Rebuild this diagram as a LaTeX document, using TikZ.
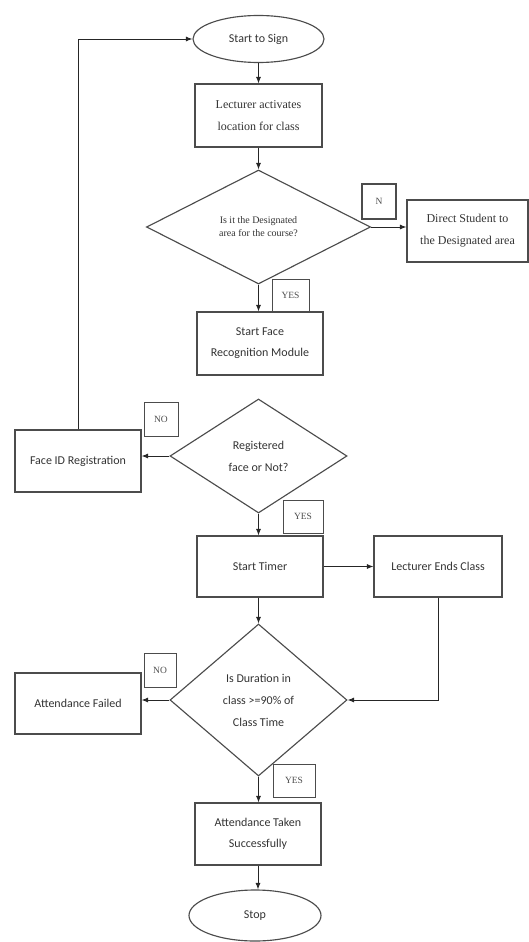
\documentclass[tikz,border=0pt]{standalone}
\usepackage{fontspec}
\setmainfont{Carlito}
\newfontfamily\timesfont{Liberation Serif}
\usetikzlibrary{shapes.geometric,arrows.meta}

\begin{document}
\begin{tikzpicture}[
    x=1pt, y=-1pt,
    box/.style={draw=black!70, line width=.4mm, minimum width=126pt,
        minimum height=62pt, align=center, inner sep=2pt,
        text=black!80, font=\fontsize{12}{21}\selectfont},
    serif/.style={font=\timesfont\fontsize{12}{22}\selectfont},
    term/.style={ellipse, draw=black!70, line width=.4mm, inner sep=0pt,
        text=black!80, font=\fontsize{12}{14}\selectfont},
    decision/.style={diamond, draw=black!70, line width=.4mm, inner sep=0pt,
        align=center, text=black!80, font=\fontsize{12}{22}\selectfont},
    tag/.style={draw=black!70, line width=.35mm, inner sep=0pt,
        text=black!70, font=\timesfont\fontsize{9.5}{11}\selectfont},
    arr/.style={-{Latex[length=2.3mm, width=1.8mm]}, line width=.35mm, draw=black!85},
]
    \useasboundingbox (0,0) rectangle (529,942);

    %% top: sign in and location check
    \node[term, minimum width=131pt, minimum height=47pt] (start) at (258.5,39) {Start to Sign};
    \node[box, serif, minimum width=127pt, minimum height=63pt] (act) at (258.5,115.5)
        {Lecturer activates\\location for class};
    \node[decision, font=\timesfont\fontsize{10}{13}\selectfont,
        minimum width=224pt, minimum height=114pt] (area) at (258.5,227)
        {Is it the Designated\\area for the course?};
    \node[tag, line width=.6mm, minimum width=34pt, minimum height=35pt] (n) at (379,201.5) {N};
    \node[box, serif, minimum width=121pt] (direct) at (467.5,231)
        {Direct Student to\\the Designated area};
    \node[tag, minimum width=37pt, minimum height=33pt] (yes1) at (290.5,295.5) {YES};
    \node[box, minimum width=126pt, minimum height=63pt] (face) at (260,343.5)
        {Start Face\\Recognition Module};

    %% face check
    \node[decision, minimum width=177pt, minimum height=114pt] (regq) at (258.5,456)
        {Registered\\face or Not?};
    \node[box] (reg) at (78,461) {Face ID Registration};
    \node[tag, minimum width=34pt, minimum height=34pt] (no1) at (161,419) {NO};
    \node[tag, minimum width=40pt, minimum height=33pt] (yes2) at (303,516.5) {YES};

    %% timing
    \node[box, minimum height=61pt] (timer) at (260,566.5) {Start Timer};
    \node[box, minimum width=128pt, minimum height=61pt] (ends) at (438,566.5) {Lecturer Ends Class};
    \node[decision, minimum width=177pt, minimum height=152pt] (dur) at (258.5,700)
        {Is Duration in\\class >=90\% of\\Class Time};
    \node[tag, minimum width=32pt, minimum height=34pt] (no3) at (160,670) {NO};
    \node[box, minimum height=61pt] (fail) at (78,703.5) {Attendance Failed};
    \node[tag, minimum width=42pt, minimum height=33pt] (yes3) at (294,780.5) {YES};
    \node[box] (taken) at (258,834) {Attendance Taken\\Successfully};
    \node[term, minimum width=132pt, minimum height=51pt] (stop) at (255,915.5) {Stop};

    %% connectors
    \draw[arr] (start) -- (act);
    \draw[arr] (act) -- (area);
    \draw[arr] (area.east) -- (area.east -| direct.west);
    \draw[arr] (area.south) -- (area.south |- face.north);
    \draw[arr] (regq.west) -- (regq.west -| reg.east);
    \draw[arr] (reg.north) |- (start.west);
    \draw[arr] (regq.south) -- (regq.south |- timer.north);
    \draw[arr] (timer.east) -- (ends.west);
    \draw[arr] (dur.north |- timer.south) -- (dur.north);
    \draw[arr] (ends.south) |- (dur.east);
    \draw[arr] (dur.west) -- (dur.west -| fail.east);
    \draw[arr] (dur.south) -- (dur.south |- taken.north);
    \draw[arr] (taken.south) -- (taken.south |- stop.north);
\end{tikzpicture}
\end{document}
